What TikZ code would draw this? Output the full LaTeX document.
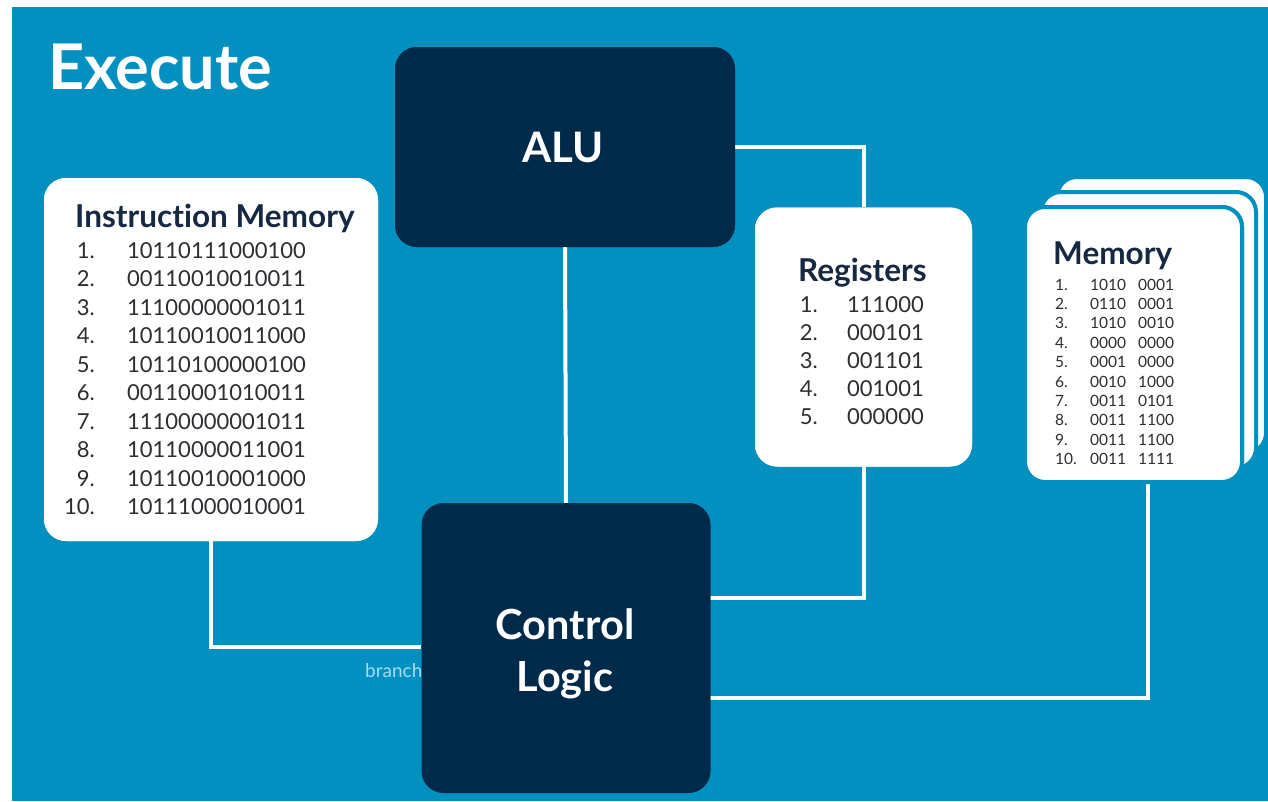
\documentclass[tikz,border=0pt]{standalone}
\usepackage{fontspec}
\setmainfont{Lato}
\definecolor{bgblue}{RGB}{1,144,192}
\definecolor{navy}{RGB}{0,42,74}
\definecolor{titlecol}{RGB}{22,40,66}
\definecolor{rowcol}{RGB}{45,45,50}
\definecolor{branchcol}{RGB}{160,222,242}
\begin{document}
\begin{tikzpicture}[x=1pt,y=-1pt,
  darkbox/.style={fill=navy, rounded corners=22pt, inner sep=0},
  card/.style={fill=white, rounded corners=22pt, inner sep=0},
  stackcard/.style={fill=white, draw=bgblue, line width=4pt, rounded corners=20pt, inner sep=0},
  wire/.style={draw=white, line width=4pt},
  boxlabel/.style={inner sep=0, text=white, align=center, font=\bfseries\fontsize{41.5}{52}\selectfont},
  title/.style={anchor=base west, inner sep=0, text=titlecol, font=\bfseries\fontsize{31.5}{36}\selectfont},
  rownum/.style={anchor=base east, inner sep=0, text=rowcol, font=\fontsize{22}{26}\selectfont},
  rowval/.style={anchor=base west, inner sep=0, text=rowcol, font=\fontsize{22}{26}\selectfont},
  smallrow/.style={anchor=base west, inner sep=0, text=rowcol, font=\fontsize{15.5}{18}\selectfont}]

\useasboundingbox (0,0) rectangle (1268,801);
\fill[white] (0,0) rectangle (1268,801);
\fill[bgblue] (12,7) rectangle (1268,801);

% heading
\node[anchor=base west, inner sep=0, text=white, font=\bfseries\fontsize{63}{66}\selectfont] (heading) at (48,89) {Execute};

% box outlines (placed first so the wires can refer to them)
\node[darkbox, minimum width=340pt, minimum height=200pt] (alu) at (565,147) {};
\node[card, minimum width=334pt, minimum height=363pt] (imem) at (211,359.5) {};
\node[card, minimum width=217pt, minimum height=259pt] (reg) at (863.5,337) {};
\node[stackcard, minimum width=209pt, minimum height=276pt] (mem3) at (1161.5,315) {};
\node[stackcard, minimum width=215pt, minimum height=276pt] (mem2) at (1148.5,330) {};
\node[stackcard, minimum width=217pt, minimum height=275pt] (mem) at (1133.5,344.5) {};
\coordinate (memtap) at (1148,482);

% wires, drawn under the control block
\path[wire] (alu.south) -- (566,503);
\path[wire] (alu.east) -| (reg.north);
\path[wire] (reg.south) |- (710,598);
\path[wire] (imem.south) |- (421,647);
\path[wire] (memtap) |- (710,698);

% redraw the boxes above the wires
\node[darkbox, minimum width=340pt, minimum height=200pt] (alubox) at (565,147) {};
\node[card, minimum width=334pt, minimum height=363pt] (imembox) at (211,359.5) {};
\node[card, minimum width=217pt, minimum height=259pt] (regbox) at (863.5,337) {};
\node[stackcard, minimum width=217pt, minimum height=275pt] (membox) at (1133.5,344.5) {};

% branch label, partly hidden by the control block
\node[anchor=base west, inner sep=0, text=branchcol, font=\fontsize{19}{22}\selectfont] (branch) at (365,677) {branch};

\node[darkbox, minimum width=289pt, minimum height=290pt] (ctrl) at (566,648) {};

% labels of the dark blocks
\node[boxlabel, font=\bfseries\fontsize{42}{50}\selectfont] (alulabel) at (563,147) {ALU};
\node[boxlabel] (ctrllabel) at (565,654) {Control\\Logic};

% instruction memory
\node[title] (imemtitle) at (75,227) {Instruct\kern0pt ion Memory};
\foreach \i/\v in {1/10110111000100, 2/00110010010011, 3/11100000001011,
                   4/10110010011000, 5/10110100000100, 6/00110001010011,
                   7/11100000001011, 8/10110000011001, 9/10110010001000,
                   10/10111000010001} {
  \node[rownum] (imn-\i) at (95,{258+28.5*(\i-1)}) {\i.};
  \node[rowval] (imv-\i) at (127,{258+28.5*(\i-1)}) {\v};
}

% registers
\node[title] (regtitle) at (798,281) {Registers};
\foreach \i/\v in {1/111000, 2/000101, 3/001101, 4/001001, 5/000000} {
  \node[rownum] (rgn-\i) at (818,{312+28*(\i-1)}) {\i.};
  \node[rowval] (rgv-\i) at (847,{312+28*(\i-1)}) {\v};
}

% data memory
\node[title] (memtitle) at (1053,264) {Memory};
\foreach \i/\a/\b in {1/1010/0001, 2/0110/0001, 3/1010/0010, 4/0000/0000,
                      5/0001/0000, 6/0010/1000, 7/0011/0101, 8/0011/1100,
                      9/0011/1100, 10/0011/1111} {
  \node[smallrow] (mmn-\i) at (1055,{290+19.4*(\i-1)}) {\i.};
  \node[smallrow] (mma-\i) at (1090,{290+19.4*(\i-1)}) {\a};
  \node[smallrow] (mmb-\i) at (1138,{290+19.4*(\i-1)}) {\b};
}
\end{tikzpicture}
\end{document}
